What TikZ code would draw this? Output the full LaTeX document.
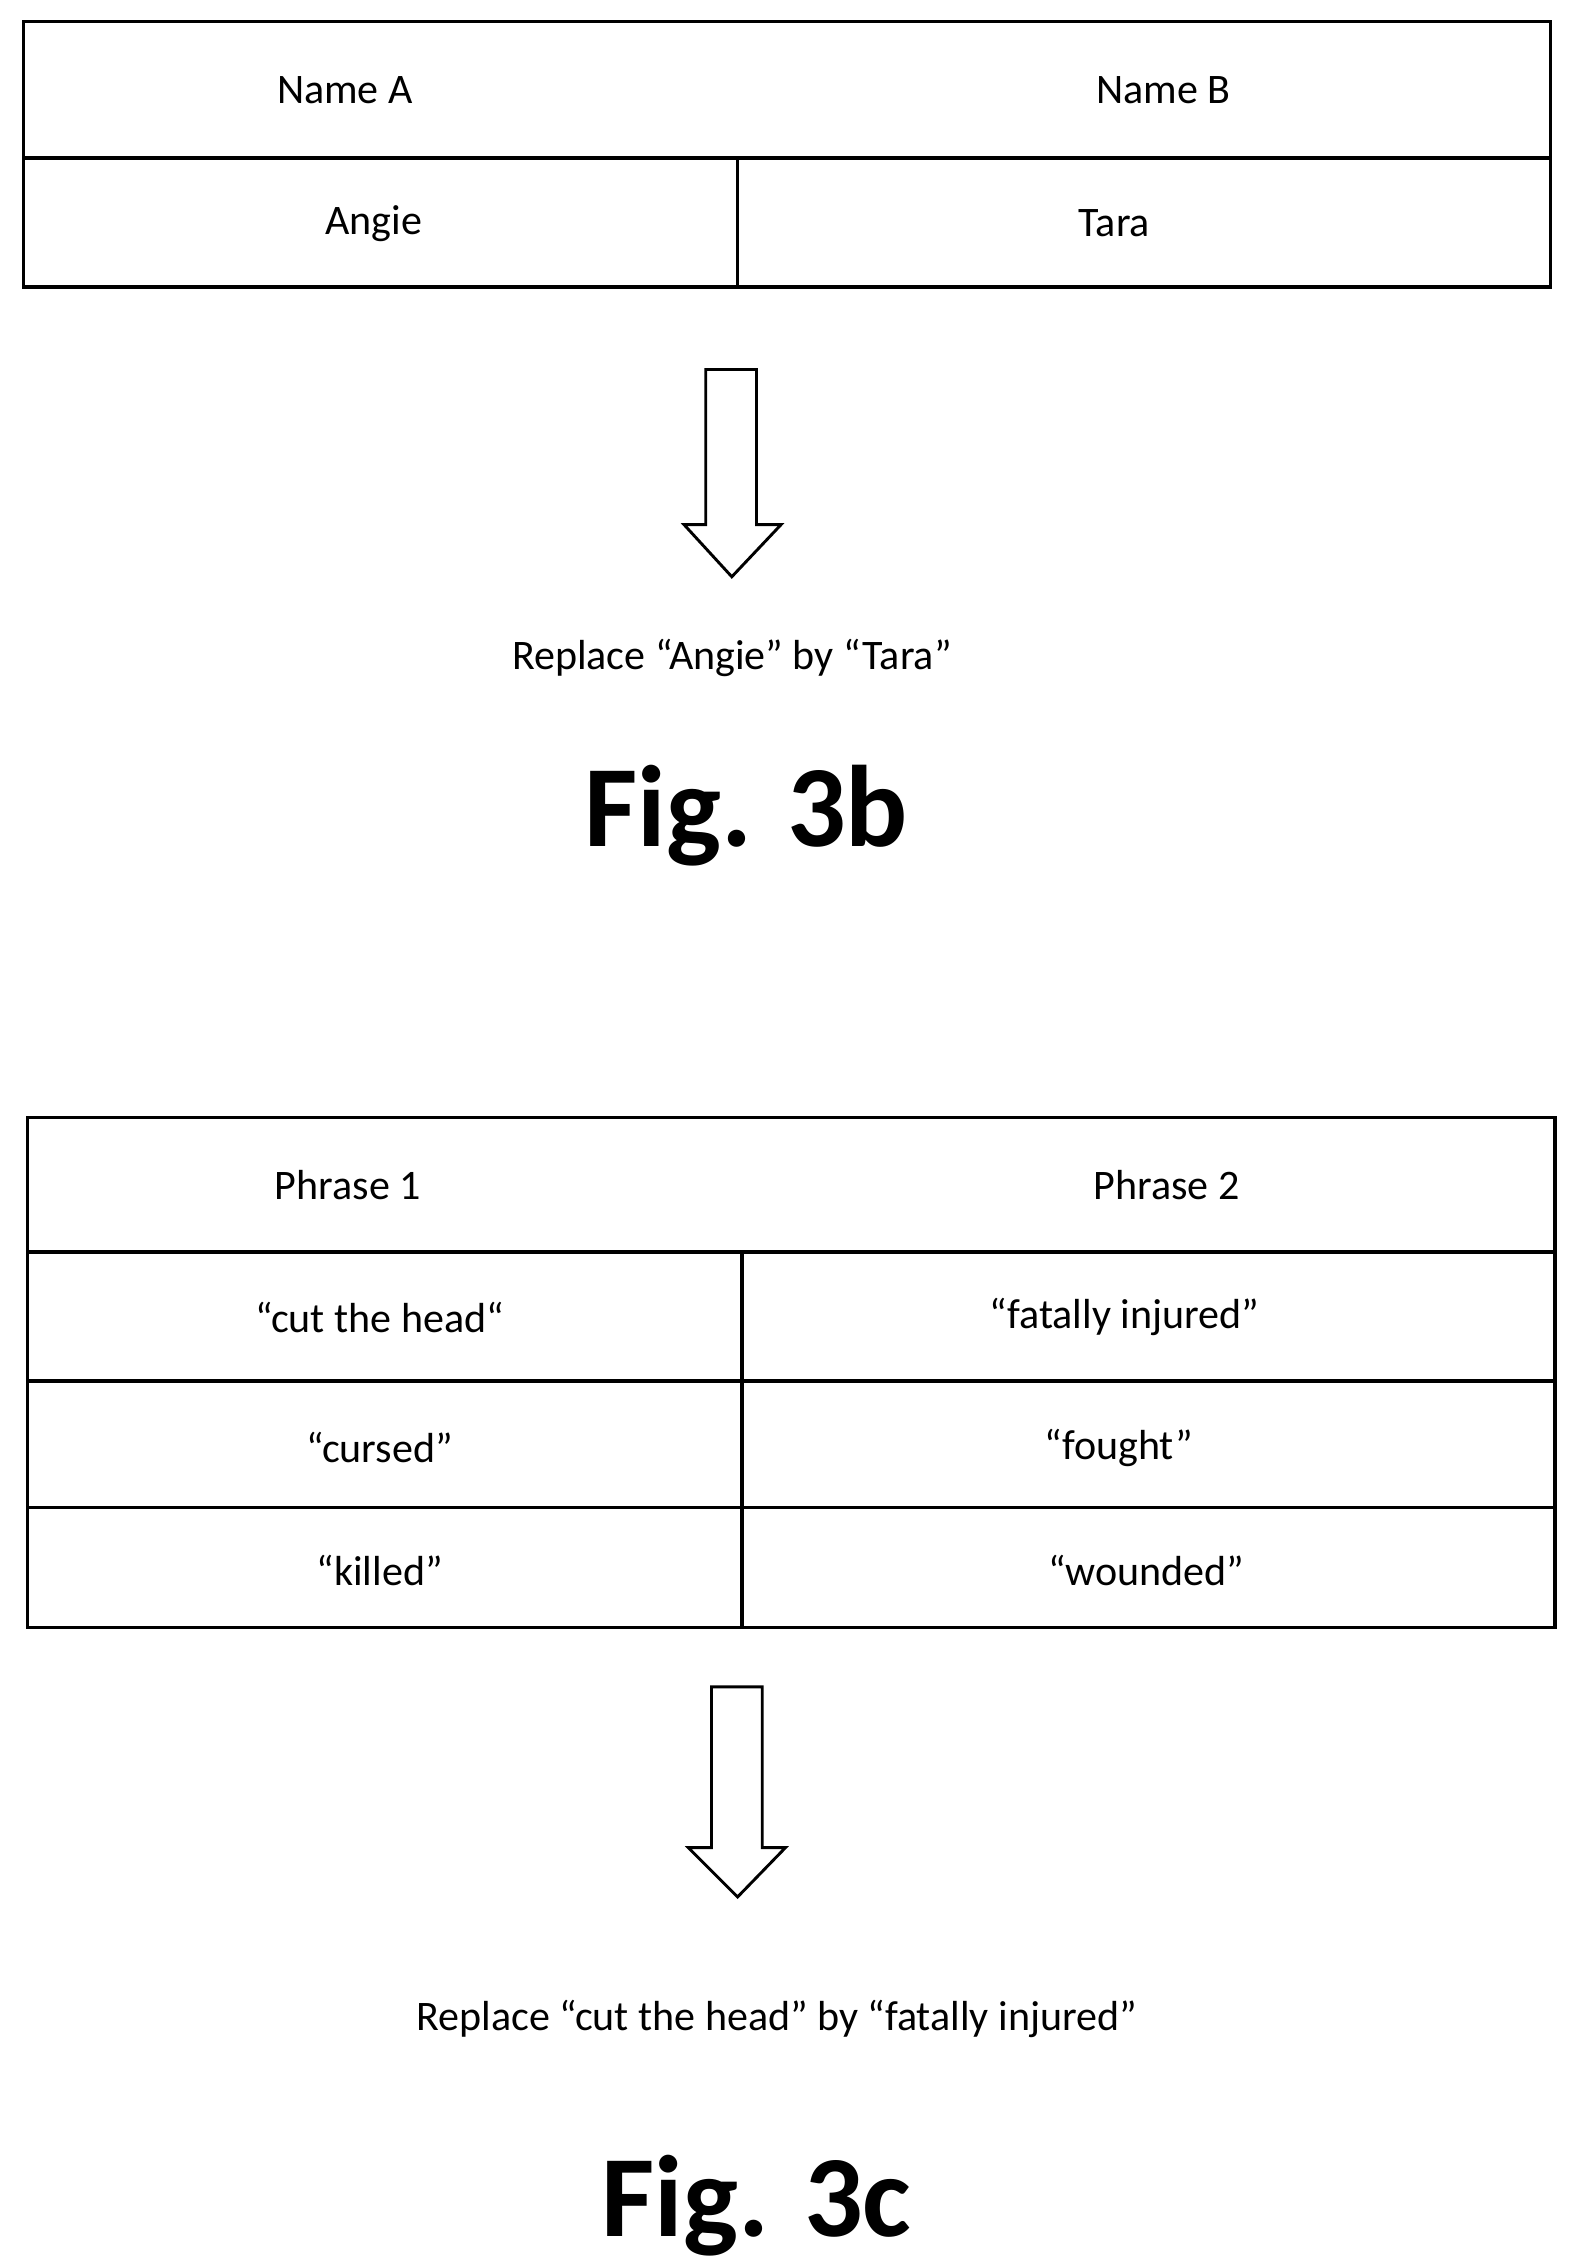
\documentclass[tikz,border=0pt]{standalone}
\usepackage{fontspec}
\setmainfont{Carlito}
\begin{document}
\begin{tikzpicture}[x=0.5pt,y=-0.5pt,
  ln/.style={line width=1.1pt},
  txt/.style={font=\fontsize{14.5}{17}\selectfont},
  fig/.style={font=\fontsize{40}{46}\bfseries\selectfont},
  arr/.style={draw,line width=1pt,fill=white}]
\useasboundingbox (0,0) rectangle (1084,1563);
% table 1
\draw[ln] (16,15) rectangle (1070,198);
\draw[ln] (16,109) -- (1070,109);
\draw[ln] (509,109) -- (509,198);
\node[txt] (na) at (238,62) {Name A};
\node[txt] (nb) at (803,62) {Name B};
\node[txt] (an) at (258,154) {Angie};
\node[txt] (ta) at (769,154) {Tara};
\draw[arr] (487,255) -- (522,255) -- (522,362) -- (539,362) -- (505,398) -- (472,362) -- (487,362) -- cycle;
\node[txt] (r1) at (505,454) {Replace “Angie” by “Tara”};
\node[fig] (f1) at (515,563) {Fig. 3b};
% table 2
\draw[ln] (19,771) rectangle (1073,1123);
\foreach \y in {864,953,1040} \draw[ln] (19,\y) -- (1073,\y);
\draw[ln] (512,864) -- (512,1123);
\node[txt] (p1) at (240,818) {Phrase 1};
\node[txt] (p2) at (805,818) {Phrase 2};
\node[txt] (c1) at (262,909) {“cut the head“};
\node[txt] (c2) at (776,909) {“fatally injured”};
\node[txt] (c3) at (262,999) {“cursed”};
\node[txt] (c4) at (772,999) {“fought”};
\node[txt] (c5) at (262,1084) {“killed”};
\node[txt] (c6) at (791,1084) {“wounded”};
\draw[arr] (491,1164) -- (526,1164) -- (526,1275) -- (542,1275) -- (509,1309) -- (475,1275) -- (491,1275) -- cycle;
\node[txt] (r2) at (536,1393) {Replace “cut the head” by “fatally injured”};
\node[fig] (f2) at (522,1522) {Fig. 3c};
\end{tikzpicture}
\end{document}
